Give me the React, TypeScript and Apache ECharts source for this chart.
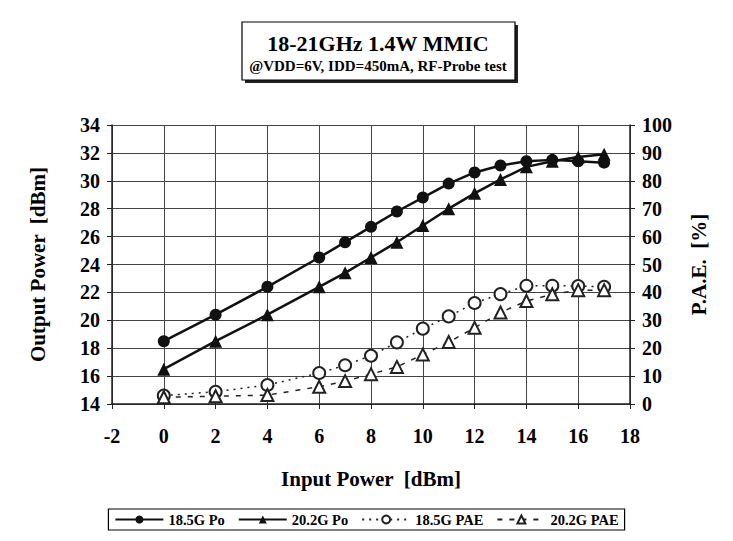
import React, { useEffect, useRef } from "react";
import * as echarts from "echarts";

const inputPower = [0, 2, 4, 6, 7, 8, 9, 10, 11, 12, 13, 14, 15, 16, 17];
const po185 = [18.5, 20.4, 22.4, 24.5, 25.6, 26.7, 27.8, 28.8, 29.8, 30.6, 31.1, 31.4, 31.5, 31.4, 31.3];
const po202 = [16.5, 18.5, 20.4, 22.4, 23.4, 24.5, 25.6, 26.8, 28.0, 29.1, 30.1, 31.0, 31.4, 31.7, 31.9];
const pae185 = [3.0, 4.4, 6.8, 11.1, 13.9, 17.3, 22.1, 27.0, 31.4, 36.2, 39.4, 42.4, 42.4, 42.3, 42.0];
const pae202 = [2.4, 2.8, 3.2, 6.2, 8.2, 10.7, 13.3, 17.7, 22.2, 27.3, 32.8, 36.9, 39.3, 40.8, 40.8];
const seriesNames = ["18.5G Po", "20.2G Po", "18.5G PAE", "20.2G PAE"];
const titleText = "18-21GHz 1.4W MMIC";
const subtitleText = "@VDD=6V, IDD=450mA, RF-Probe test";

const FONT = "'Liberation Serif', 'Times New Roman', serif";

const pairs = (ys: number[]) => inputPower.map((x, i) => [x, ys[i]]);

export default function App() {
  const ref = useRef<HTMLDivElement>(null);
  useEffect(() => {
    if (!ref.current) return;
    const chart = echarts.init(ref.current, null, { renderer: "svg" });
    const labelStyle = { color: "#000", fontFamily: FONT, fontWeight: "bold" as const, fontSize: 20 };
    const nameStyle = { color: "#000", fontFamily: FONT, fontWeight: "bold" as const, fontSize: 21 };
    chart.setOption({
      animation: false,
      backgroundColor: "#fff",
      grid: { left: 112, right: 103, top: 125, bottom: 137 },
      legend: {
        data: seriesNames,
        top: 509,
        left: "center",
        orient: "horizontal",
        borderColor: "#000",
        borderWidth: 1.2,
        padding: [3, 6],
        itemGap: 13,
        itemWidth: 48,
        itemHeight: 10,
        textStyle: { color: "#000", fontFamily: FONT, fontWeight: "bold", fontSize: 14.5 },
      },
      xAxis: {
        type: "value",
        min: -2,
        max: 18,
        interval: 2,
        name: "Input Power  [dBm]",
        nameLocation: "middle",
        nameGap: 64,
        nameTextStyle: nameStyle,
        axisLine: { show: true, onZero: false, lineStyle: { color: "#222", width: 1.5 } },
        axisTick: { show: true, length: 5, lineStyle: { color: "#222" } },
        axisLabel: { ...labelStyle, margin: 22 },
        splitLine: { show: true, lineStyle: { color: "#444", width: 1 } },
      },
      yAxis: [
        {
          type: "value",
          min: 14,
          max: 34,
          interval: 2,
          name: "Output Power  [dBm]",
          nameLocation: "middle",
          nameRotate: 90,
          nameGap: 64,
          nameTextStyle: nameStyle,
          axisLine: { show: true, onZero: false, lineStyle: { color: "#222", width: 1.5 } },
          axisTick: { show: true, length: 5, lineStyle: { color: "#222" } },
          axisLabel: { ...labelStyle, margin: 12 },
          splitLine: { show: true, lineStyle: { color: "#444", width: 1 } },
        },
        {
          type: "value",
          min: 0,
          max: 100,
          interval: 10,
          position: "right",
          name: "P.A.E.  [%]",
          nameLocation: "middle",
          nameRotate: 90,
          nameGap: 58,
          nameTextStyle: nameStyle,
          axisLine: { show: true, onZero: false, lineStyle: { color: "#222", width: 1.5 } },
          axisTick: { show: true, length: 5, lineStyle: { color: "#222" } },
          axisLabel: { ...labelStyle, margin: 12 },
          splitLine: { show: false },
        },
      ],
      graphic: [
        { type: "rect", shape: { x: 245, y: 25, width: 273, height: 58 }, style: { fill: "#222" }, z: 10 },
        { type: "rect", shape: { x: 242, y: 22, width: 273, height: 58 }, style: { fill: "#fff", stroke: "#000", lineWidth: 1.2 }, z: 11 },
        {
          type: "text", x: 378, y: 43, z: 12,
          style: { text: titleText, fill: "#000", font: `bold 22px ${FONT}`, align: "center", verticalAlign: "middle" },
        },
        {
          type: "text", x: 378, y: 66, z: 12,
          style: { text: subtitleText, fill: "#000", font: `bold 15px ${FONT}`, align: "center", verticalAlign: "middle" },
        },
      ],
      series: [
        {
          name: seriesNames[0], type: "line", yAxisIndex: 0, data: pairs(po185),
          symbol: "circle", symbolSize: 12,
          lineStyle: { color: "#111", width: 2.5 }, itemStyle: { color: "#111" },
        },
        {
          name: seriesNames[1], type: "line", yAxisIndex: 0, data: pairs(po202),
          symbol: "triangle", symbolSize: 13,
          lineStyle: { color: "#111", width: 2.5 }, itemStyle: { color: "#111" },
        },
        {
          name: seriesNames[2], type: "line", yAxisIndex: 1, data: pairs(pae185),
          symbol: "emptyCircle", symbolSize: 12,
          lineStyle: { color: "#222", width: 1.5, type: [2, 5] },
          itemStyle: { color: "#222", borderColor: "#222", borderWidth: 1.2 },
        },
        {
          name: seriesNames[3], type: "line", yAxisIndex: 1, data: pairs(pae202),
          symbol: "emptyTriangle", symbolSize: 12,
          lineStyle: { color: "#222", width: 1.5, type: [5, 7] },
          itemStyle: { color: "#222", borderColor: "#222", borderWidth: 1.2 },
        },
      ],
    });
    return () => chart.dispose();
  }, []);
  return <div ref={ref} style={{ position: "absolute", left: 0, top: 0, width: 733, height: 541 }} />;
}
